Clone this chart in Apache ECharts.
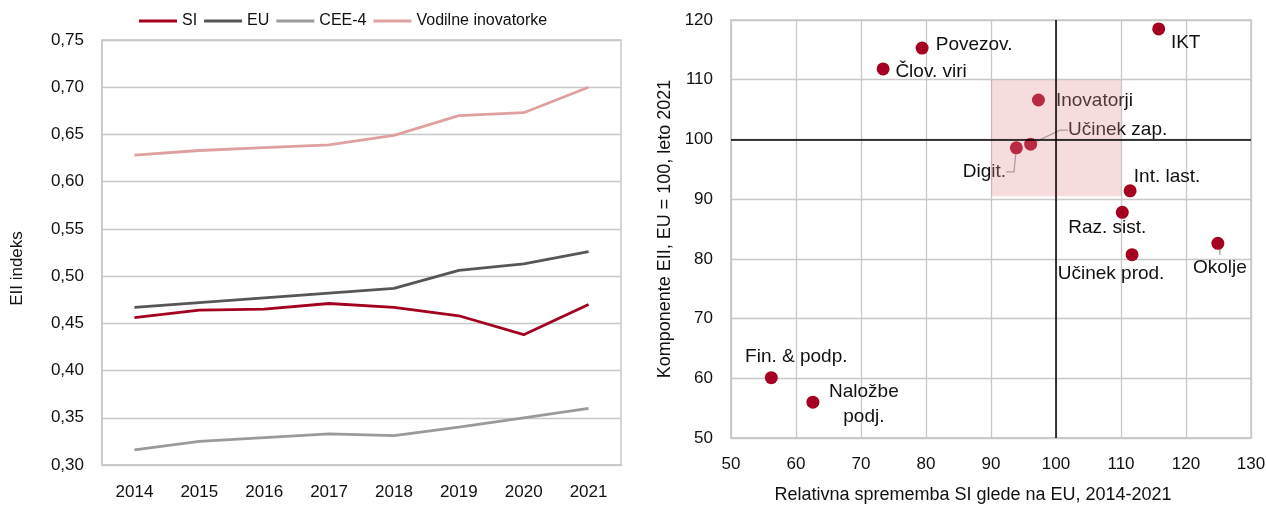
<!DOCTYPE html>
<html>
<head>
<meta charset="utf-8">
<script src="https://cdn.jsdelivr.net/npm/echarts@6/dist/echarts.min.js"></script>
<style>
  html, body { margin: 0; padding: 0; background: #fff; }
  #main { width: 1266px; height: 507px; }
</style>
</head>
<body>
<div id="main"></div>
<script>
// levo: indeks EII po letih
var years = ['2014', '2015', '2016', '2017', '2018', '2019', '2020', '2021'];
var siData = [0.456, 0.464, 0.465, 0.471, 0.467, 0.458, 0.438, 0.470];
var euData = [0.467, 0.472, 0.477, 0.482, 0.487, 0.506, 0.513, 0.526];
var ceeData = [0.316, 0.325, 0.329, 0.333, 0.331, 0.340, 0.350, 0.360];
var leadData = [0.628, 0.633, 0.636, 0.639, 0.649, 0.670, 0.673, 0.700];

// desno: komponente EII
var compNames = ['IKT', 'Povezov.', 'Člov. viri', 'Inovatorji', 'Učinek zap.', 'Digit.',
  'Int. last.', 'Raz. sist.', 'Učinek prod.', 'Okolje', 'Fin. & podp.', 'Naložbe\npodj.'];
var compChange = [115.8, 79.4, 73.4, 97.3, 96.1, 93.9, 111.4, 110.2, 111.7, 124.9, 56.2, 62.6];
var compLevel = [118.5, 115.3, 111.8, 106.6, 99.2, 98.6, 91.4, 87.8, 80.7, 82.6, 60.1, 56.0];

// oznake (premik sredine besedila glede na točko, v px)
var labelShift = [[27, 14], [52, -3], [48, 3], [56, 1], [87, -14], [-32, 24],
  [37, -14], [-15, 15], [-21, 19], [2, 24], [25, -21], [51, 2]];
var withGuide = ['Učinek zap.', 'Digit.', 'Okolje'];

var font = 'Liberation Sans, Arial, sans-serif';
var gridColor = '#c8c8c8';
var txt = '#111';

var chart = echarts.init(document.getElementById('main'), null, { renderer: 'canvas' });

var scatterData = compNames.map(function (n, i) {
  var item = { name: n, value: [compChange[i], compLevel[i]] };
  if (withGuide.indexOf(n) >= 0) {
    item.labelLine = { show: true };
  }
  return item;
});

var option = {
  backgroundColor: '#ffffff',
  textStyle: { fontFamily: font },
  animation: false,
  legend: {
    left: 134,
    top: 8,
    icon: 'rect',
    itemWidth: 38,
    itemHeight: 3,
    itemGap: 7,
    textStyle: { fontSize: 16, color: txt, fontFamily: font },
    data: ['SI', 'EU', 'CEE-4', 'Vodilne inovatorke']
  },
  grid: [
    { left: 102, top: 40, width: 519, height: 425, show: true, borderColor: gridColor, borderWidth: 1.5, outerBoundsMode: 'none' },
    { left: 731, top: 20, width: 520, height: 418, show: true, borderColor: gridColor, borderWidth: 1.5, outerBoundsMode: 'none' }
  ],
  xAxis: [
    {
      gridIndex: 0,
      type: 'category',
      data: years,
      boundaryGap: true,
      axisLine: { lineStyle: { color: gridColor, width: 1.5 } },
      axisTick: { show: false },
      axisLabel: { fontSize: 17, color: txt, margin: 19 }
    },
    {
      gridIndex: 1,
      type: 'value',
      min: 50,
      max: 130,
      interval: 10,
      name: 'Relativna sprememba SI glede na EU, 2014-2021',
      nameLocation: 'middle',
      nameGap: 48,
      nameTextStyle: { fontSize: 18, color: txt, padding: [0, 36, 0, 0] },
      axisLine: { lineStyle: { color: gridColor, width: 1.5 } },
      axisTick: { show: false },
      splitLine: { lineStyle: { color: gridColor, width: 1.3 } },
      axisLabel: { fontSize: 17, color: txt, margin: 18 }
    }
  ],
  yAxis: [
    {
      gridIndex: 0,
      type: 'value',
      min: 0.30,
      max: 0.75,
      interval: 0.05,
      name: 'EII indeks',
      nameLocation: 'middle',
      nameGap: 76,
      nameTextStyle: { fontSize: 17, color: txt, padding: [0, 32, 0, 0] },
      axisLine: { show: true, lineStyle: { color: gridColor, width: 1.5 } },
      axisTick: { show: false },
      splitLine: { lineStyle: { color: gridColor, width: 1.3 } },
      axisLabel: {
        fontSize: 17, color: txt, margin: 18,
        formatter: function (v) { return v.toFixed(2).replace('.', ','); }
      }
    },
    {
      gridIndex: 1,
      type: 'value',
      min: 50,
      max: 120,
      interval: 10,
      name: 'Komponente EII, EU = 100, leto 2021',
      nameLocation: 'middle',
      nameGap: 57,
      nameTextStyle: { fontSize: 18, color: txt },
      axisLine: { show: true, lineStyle: { color: gridColor, width: 1.5 } },
      axisTick: { show: false },
      splitLine: { lineStyle: { color: gridColor, width: 1.3 } },
      axisLabel: { fontSize: 17, color: txt, margin: 18 }
    }
  ],
  series: [
    {
      name: 'SI', type: 'line', xAxisIndex: 0, yAxisIndex: 0,
      data: siData, symbol: 'none', z: 5,
      color: '#a3001e', lineStyle: { width: 2.8, color: '#a3001e' }
    },
    {
      name: 'EU', type: 'line', xAxisIndex: 0, yAxisIndex: 0,
      data: euData, symbol: 'none', z: 4,
      color: '#565656', lineStyle: { width: 2.8, color: '#565656' }
    },
    {
      name: 'CEE-4', type: 'line', xAxisIndex: 0, yAxisIndex: 0,
      data: ceeData, symbol: 'none', z: 3,
      color: '#9a9a9a', lineStyle: { width: 2.8, color: '#9a9a9a' }
    },
    {
      name: 'Vodilne inovatorke', type: 'line', xAxisIndex: 0, yAxisIndex: 0,
      data: leadData, symbol: 'none', z: 3,
      color: '#e0a0a0', lineStyle: { width: 2.8, color: '#e0a0a0' }
    },
    {
      name: 'Komponente', type: 'scatter', xAxisIndex: 1, yAxisIndex: 1,
      data: scatterData,
      symbolSize: 13,
      z: 2,
      itemStyle: { color: '#a5001f', opacity: 1 },
      label: {
        show: true,
        position: 'inside',
        color: txt,
        fontSize: 19,
        lineHeight: 25,
        fontFamily: font,
        formatter: function (p) { return p.name; }
      },
      labelLine: { show: false, lineStyle: { color: '#a0a0a0', width: 1.3 }, length2: 8 },
      labelLayout: function (p) {
        var s = labelShift[p.dataIndex];
        return { dx: s[0], dy: s[1] };
      }
    },
    {
      name: 'obmocje', type: 'scatter', xAxisIndex: 1, yAxisIndex: 1,
      data: [], z: 6, silent: true,
      markArea: {
        silent: true,
        z: 6,
        itemStyle: { color: 'rgba(228,140,145,0.3)' },
        data: [[{ coord: [90, 110] }, { coord: [110, 90.5] }]]
      }
    },
    {
      name: 'os100', type: 'scatter', xAxisIndex: 1, yAxisIndex: 1,
      data: [], z: 7, silent: true,
      markLine: {
        silent: true,
        z: 7,
        symbol: 'none',
        label: { show: false },
        lineStyle: { color: '#000', width: 1.5, type: 'solid' },
        data: [{ xAxis: 100 }, { yAxis: 100 }]
      }
    }
  ]
};

chart.setOption(option);
</script>
</body>
</html>
